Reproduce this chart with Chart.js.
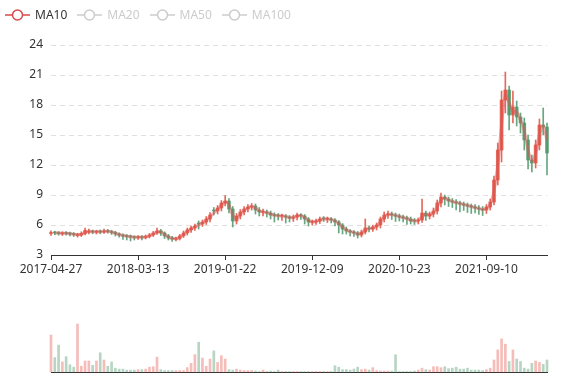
<!DOCTYPE html>
<html>
<head>
<meta charset="utf-8">
<script src="https://cdn.jsdelivr.net/npm/chart.js@4.4.0/dist/chart.umd.min.js"></script>
<style>
  html, body { margin: 0; padding: 0; background: #fff; }
  #wrap { position: relative; width: 577px; height: 380px; font-family: "Noto Sans", sans-serif; }
  #legend { position: absolute; left: 5px; top: 8px; display: flex; font-size: 12px; line-height: 14px; }
  .item { display: flex; align-items: center; margin-right: 10px; }
  .item svg { margin-right: 5px; }
  #priceChart { position: absolute; left: 0; top: 0; }
  #volChart { position: absolute; left: 0; top: 300px; }
</style>
</head>
<body>
<div id="wrap">
  <canvas id="priceChart" width="577" height="280"></canvas>
  <canvas id="volChart" width="577" height="80"></canvas>
  <div id="legend"></div>
</div>
<script>
// x axis tick labels, one every labelStep bars
const tickDates = ["2017-04-27", "2018-03-13", "2019-01-22", "2019-12-09", "2020-10-23", "2021-09-10"];
const labelStep = 23;

const legendNames = ["MA10", "MA20", "MA50", "MA100"];

const opens = [
  5.15, 5.25, 5.22, 5.12, 5.22, 5.16, 5.12, 4.95, 5.00, 5.15,
  5.28, 5.38, 5.28, 5.36, 5.30, 5.42, 5.35, 5.25, 5.10, 5.00,
  4.92, 4.86, 4.80, 4.74, 4.82, 4.76, 4.86, 5.00, 5.20, 5.42,
  5.20, 4.92, 4.72, 4.58, 4.66, 4.92, 5.22, 5.50, 5.72, 6.20,
  6.10, 6.30, 6.60, 7.50, 7.40, 7.70, 8.20, 8.40, 7.60, 6.40,
  6.90, 7.30, 7.60, 7.80, 7.90, 7.50, 7.28, 7.30, 7.20, 7.00,
  6.95, 6.88, 6.90, 6.80, 6.70, 6.80, 7.00, 6.90, 6.60, 6.28,
  6.30, 6.40, 6.62, 6.58, 6.60, 6.50, 6.30, 6.00, 5.60, 5.40,
  5.30, 5.20, 5.00, 5.30, 5.70, 5.60, 5.80, 6.00, 6.60, 7.00,
  7.10, 7.00, 6.90, 6.80, 6.70, 6.60, 6.42, 6.40, 6.50, 7.20,
  6.90, 7.10, 7.40, 8.20, 8.80, 8.60, 8.40, 8.30, 8.20, 8.10,
  8.00, 7.90, 7.80, 7.70, 7.60, 7.50, 7.80, 8.30, 10.50, 13.50,
  18.50, 19.50, 17.00, 17.80, 16.80, 16.20, 14.50, 12.50, 12.20, 14.00,
  16.00, 15.80
];
const closes = [
  5.25, 5.20, 5.15, 5.20, 5.15, 5.10, 5.05, 5.00, 5.15, 5.45,
  5.35, 5.30, 5.35, 5.30, 5.40, 5.35, 5.25, 5.10, 5.00, 4.90,
  4.85, 4.80, 4.75, 4.80, 4.75, 4.85, 5.00, 5.20, 5.40, 5.20,
  4.90, 4.70, 4.60, 4.65, 4.90, 5.20, 5.50, 5.70, 5.90, 6.10,
  6.30, 6.60, 7.00, 7.40, 7.70, 8.20, 8.40, 7.60, 6.40, 6.90,
  7.30, 7.60, 7.80, 7.90, 7.50, 7.30, 7.30, 7.20, 7.00, 6.95,
  6.90, 6.90, 6.80, 6.70, 6.80, 7.00, 6.90, 6.60, 6.30, 6.30,
  6.40, 6.60, 6.60, 6.60, 6.50, 6.30, 6.00, 5.60, 5.40, 5.30,
  5.20, 5.00, 5.30, 5.70, 5.60, 5.80, 6.00, 6.60, 7.00, 7.10,
  7.00, 6.90, 6.80, 6.70, 6.60, 6.40, 6.40, 6.50, 7.20, 6.90,
  7.10, 7.40, 8.20, 8.80, 8.60, 8.40, 8.30, 8.20, 8.10, 8.00,
  7.90, 7.80, 7.70, 7.60, 7.50, 7.80, 8.30, 10.50, 13.50, 18.50,
  19.50, 17.00, 17.80, 16.80, 16.20, 14.50, 12.50, 12.20, 14.00, 16.00,
  15.80, 13.20
];
const highs = [
  5.42, 5.38, 5.35, 5.32, 5.35, 5.28, 5.24, 5.18, 5.32, 5.68,
  5.58, 5.50, 5.48, 5.50, 5.58, 5.55, 5.48, 5.38, 5.22, 5.12,
  5.05, 5.00, 4.92, 4.95, 4.94, 5.00, 5.16, 5.36, 5.70, 5.56,
  5.32, 5.06, 4.86, 4.80, 5.06, 5.40, 5.70, 5.90, 6.10, 6.40,
  6.50, 6.85, 7.25, 7.75, 7.95, 8.45, 8.95, 8.65, 7.85, 7.15,
  7.55, 7.85, 8.05, 8.15, 8.10, 7.75, 7.60, 7.50, 7.40, 7.22,
  7.15, 7.10, 7.05, 6.95, 7.00, 7.20, 7.15, 7.05, 6.75, 6.50,
  6.60, 6.80, 6.85, 6.80, 6.75, 6.65, 6.45, 6.15, 5.80, 5.55,
  5.45, 5.35, 5.50, 6.60, 5.90, 6.00, 6.20, 6.80, 7.30, 7.40,
  7.30, 7.20, 7.10, 7.00, 6.90, 6.80, 6.65, 6.70, 8.60, 7.40,
  7.30, 7.70, 8.50, 9.20, 9.00, 8.80, 8.65, 8.55, 8.40, 8.30,
  8.20, 8.10, 8.05, 7.95, 7.85, 8.05, 8.60, 10.90, 14.20, 19.40,
  21.30, 19.90, 19.40, 18.40, 17.20, 16.70, 15.00, 13.00, 14.50, 16.60,
  17.70, 16.20
];
const lows = [
  4.95, 5.02, 4.98, 4.95, 4.98, 4.92, 4.85, 4.78, 4.85, 5.00,
  5.10, 5.12, 5.10, 5.12, 5.15, 5.18, 5.05, 4.90, 4.78, 4.55,
  4.50, 4.40, 4.50, 4.55, 4.50, 4.60, 4.70, 4.85, 5.05, 4.95,
  4.65, 4.50, 4.35, 4.40, 4.50, 4.75, 5.00, 5.25, 5.45, 5.60,
  5.85, 6.05, 6.30, 7.00, 7.10, 7.40, 7.90, 7.20, 5.80, 6.10,
  6.60, 7.00, 7.30, 7.50, 7.10, 6.90, 6.90, 6.80, 6.60, 6.30,
  6.50, 6.45, 6.20, 6.30, 6.35, 6.50, 6.55, 6.10, 5.90, 6.00,
  6.05, 6.15, 6.35, 6.25, 6.20, 5.90, 5.20, 5.10, 5.10, 4.90,
  4.85, 4.70, 4.80, 5.10, 5.30, 5.35, 5.50, 5.70, 6.30, 6.65,
  6.55, 6.35, 6.40, 6.30, 6.05, 6.10, 6.05, 6.10, 6.25, 6.45,
  6.60, 6.80, 7.10, 7.80, 8.00, 7.85, 7.75, 7.50, 7.30, 7.45,
  7.25, 7.15, 7.20, 7.05, 6.95, 7.15, 7.50, 8.00, 10.00, 12.30,
  17.20, 15.50, 16.20, 15.90, 15.20, 13.50, 11.60, 11.30, 11.70, 13.50,
  15.00, 11.00
];
const ma10 = [
  null, 5.22, 5.19, 5.18, 5.17, 5.13, 5.08, 5.04, 5.06, 5.25,
  5.38, 5.33, 5.32, 5.32, 5.35, 5.37, 5.30, 5.18, 5.05, 4.95,
  4.88, 4.82, 4.78, 4.77, 4.78, 4.80, 4.92, 5.10, 5.30, 5.30,
  5.05, 4.80, 4.66, 4.63, 4.76, 5.05, 5.35, 5.60, 5.80, 6.00,
  6.20, 6.45, 6.80, 7.20, 7.55, 7.95, 8.30, 8.00, 7.00, 6.65,
  7.10, 7.45, 7.70, 7.85, 7.70, 7.40, 7.30, 7.25, 7.10, 6.98,
  6.92, 6.90, 6.85, 6.75, 6.75, 6.90, 6.95, 6.75, 6.45, 6.30,
  6.35, 6.50, 6.60, 6.60, 6.55, 6.40, 6.15, 5.80, 5.50, 5.35,
  5.25, 5.10, 5.15, 5.50, 5.65, 5.70, 5.90, 6.30, 6.80, 7.05,
  7.05, 6.95, 6.85, 6.75, 6.65, 6.50, 6.40, 6.45, 6.85, 7.05,
  7.00, 7.25, 7.80, 8.50, 8.70, 8.50, 8.35, 8.25, 8.15, 8.05,
  7.95, 7.85, 7.75, 7.65, 7.55, 7.65, 8.05, 9.40, 12.00, 16.00,
  19.00, 18.20, 17.40, 17.30, 16.50, 15.40, 13.50, 12.40, 13.10, 15.00,
  15.90, 14.50
];
const volumes = [
  77, 30, 56, 21, 32, 15, 10, 100, 12, 23,
  23, 14, 23, 40, 25, 12, 21, 8, 6, 6,
  4, 4, 4, 5, 5, 6, 10, 11, 31, 5,
  3, 3, 3, 3, 3, 3, 9, 18, 36, 62,
  29, 12, 27, 44, 20, 34, 27, 5, 4, 6,
  4, 3, 3, 3, 2, 1, 4, 1, 2, 1,
  4, 1, 1, 1, 1, 1, 1, 1, 1, 1,
  1, 1, 1, 1, 1, 13, 10, 5, 5, 4,
  6, 10, 5, 6, 4, 9, 3, 2, 2, 2,
  2, 36, 1, 1, 1, 1, 2, 4, 8, 5,
  4, 11, 11, 9, 11, 7, 8, 10, 6, 6,
  8, 4, 4, 4, 3, 5, 8, 25, 46, 69,
  58, 22, 46, 27, 22, 8, 6, 18, 23, 20,
  16, 25
];

const categories = closes.map((_, i) => String(i));

const upColor = "rgba(224, 80, 62, 0.85)";
const downColor = "rgba(78, 150, 104, 0.85)";
const upVol = "rgba(230, 90, 80, 0.4)";
const downVol = "rgba(78, 150, 104, 0.4)";
const candleColors = closes.map((c, i) => (c >= opens[i] ? upColor : downColor));
const volColors = closes.map((c, i) => (c >= opens[i] ? upVol : downVol));

// Legend
const legendEl = document.getElementById("legend");
legendNames.forEach((name, i) => {
  const color = i === 0 ? "#d94a4a" : "#ccc";
  const item = document.createElement("div");
  item.className = "item";
  item.innerHTML = `
    <svg width="25" height="14"><line x1="0" y1="7" x2="25" y2="7" stroke="${color}" stroke-width="1.5"/>
    <circle cx="12.5" cy="7" r="5" fill="#fff" stroke="${color}" stroke-width="1.5"/></svg>
    <span style="color:${i === 0 ? "#333" : "#ccc"}">${name}</span>`;
  legendEl.appendChild(item);
});

// Price chart
new Chart(document.getElementById("priceChart"), {
  type: "bar",
  data: {
    labels: categories,
    datasets: [
      {
        type: "line",
        label: "MA10",
        data: ma10,
        borderColor: "rgba(220, 90, 90, 0.5)",
        borderWidth: 3,
        pointRadius: 0,
        tension: 0.3,
        order: 0,
      },
      {
        label: "body",
        data: opens.map((o, i) => [o, closes[i]]),
        backgroundColor: candleColors,
        barThickness: 3,
        minBarLength: 1,
        grouped: false,
        clip: false,
        order: 1,
      },
      {
        label: "wick",
        data: lows.map((l, i) => [l, highs[i]]),
        backgroundColor: candleColors,
        barThickness: 1,
        grouped: false,
        clip: false,
        order: 2,
      },
    ],
  },
  options: {
    responsive: false,
    animation: false,
    layout: { padding: { left: 0, right: 30, top: 45, bottom: 0 } },
    plugins: { legend: { display: false }, tooltip: { enabled: false } },
    scales: {
      x: {
        offset: false,
        grid: {
          offset: false,
          drawOnChartArea: false,
          tickLength: 5,
          tickColor: (ctx) => (ctx.index % labelStep === 0 ? "#333" : "rgba(0,0,0,0)"),
        },
        border: { color: "#333" },
        ticks: {
          autoSkip: false,
          maxRotation: 0,
          minRotation: 0,
          padding: 2,
          color: "#333",
          font: { family: "Noto Sans", size: 12 },
          callback: (v, i) => (i % labelStep === 0 ? tickDates[i / labelStep] : ""),
        },
        afterFit: (s) => { s.height = 25; },
      },
      y: {
        min: 3,
        max: 24,
        ticks: { stepSize: 3, padding: 8, color: "#333", font: { family: "Noto Sans", size: 12 } },
        grid: { color: "#e0e0e0", drawTicks: false },
        border: { display: false, dash: [5, 4] },
        afterFit: (s) => { s.width = 51; },
      },
    },
  },
});

// Volume chart
new Chart(document.getElementById("volChart"), {
  type: "bar",
  data: {
    labels: categories,
    datasets: [
      {
        label: "Volume",
        data: volumes,
        backgroundColor: volColors,
        barThickness: 2,
        clip: false,
      },
    ],
  },
  options: {
    responsive: false,
    animation: false,
    layout: { padding: { left: 51, right: 30, top: 24, bottom: 8 } },
    plugins: { legend: { display: false }, tooltip: { enabled: false } },
    scales: {
      x: {
        offset: false,
        grid: { display: false, offset: false, drawTicks: false },
        ticks: { display: false },
        border: { color: "#333" },
        afterFit: (s) => { s.height = 0; },
      },
      y: { display: false, min: 0, max: 100 },
    },
  },
});
</script>
</body>
</html>
